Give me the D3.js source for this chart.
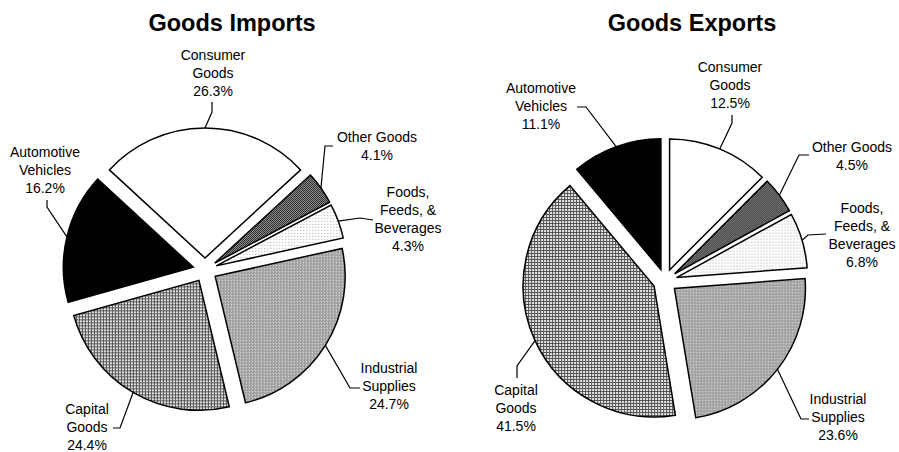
<!DOCTYPE html>
<html><head><meta charset="utf-8">
<script src="https://cdnjs.cloudflare.com/ajax/libs/d3/7.8.5/d3.min.js"></script>
<style>
html,body{margin:0;padding:0;background:#fff;}
svg{display:block;font-family:"Liberation Sans",Arial,sans-serif;}
</style></head>
<body>
<svg id="chart" width="899" height="452"></svg>
<script>
// ---- data ----
const categories = ["Consumer Goods","Other Goods","Foods, Feeds, & Beverages","Industrial Supplies","Capital Goods","Automotive Vehicles"];
const labelLines = [["Consumer","Goods"],["Other Goods"],["Foods,","Feeds, &","Beverages"],["Industrial","Supplies"],["Capital","Goods"],["Automotive","Vehicles"]];
const importsValues = [26.3, 4.1, 4.3, 24.7, 24.4, 16.2];
const exportsValues = [12.5, 4.5, 6.8, 23.6, 41.5, 11.1];
const chartTitles = ["Goods Imports","Goods Exports"];

// ---- layout / style ----
const fills = ["#ffffff","url(#pOther)","url(#pFoods)","url(#pInd)","url(#pCap)","#000000"];
const charts = [
  {title: chartTitles[0], values: importsValues, cx: 205, cy: 270, r: 130, explode: 12, titleX: 232, start: -0.263*Math.PI,
   labels: [
     {x:213, y:60,  lead:[[212,102],[212,112]]},
     {x:377, y:142, lead:[[333,146],[325,146]]},
     {x:408, y:197, lead:[[373,220],[360,218]]},
     {x:389, y:373, lead:[[360,388],[350,388]]},
     {x:87,  y:414, lead:[[113,428],[120,428]]},
     {x:45,  y:157, lead:[[47,200],[47,207]]}
   ]},
  {title: chartTitles[1], values: exportsValues, cx: 665, cy: 281, r: 131, explode: 12, titleX: 692, start: 0,
   labels: [
     {x:730, y:72,  lead:[[732,115],[732,123]]},
     {x:852, y:152, lead:[[809,155],[799,155]]},
     {x:862, y:213, lead:[[826,234],[808,235]]},
     {x:838, y:404, lead:[[809,419],[801,419]]},
     {x:516, y:395, lead:[[517,378],[517,366]]},
     {x:541, y:93,  lead:[[577,107],[586,107]]}
   ]}
];

const svg = d3.select("#chart");
const defs = svg.append("defs");
// Other goods: dark checker
let p = defs.append("pattern").attr("id","pOther").attr("width",2).attr("height",2).attr("patternUnits","userSpaceOnUse");
p.append("rect").attr("width",2).attr("height",2).attr("fill","#bbb");
p.append("rect").attr("width",1).attr("height",1).attr("fill","#000");
p.append("rect").attr("x",1).attr("y",1).attr("width",1).attr("height",1).attr("fill","#000");
// Foods: light dots
p = defs.append("pattern").attr("id","pFoods").attr("width",3).attr("height",3).attr("patternUnits","userSpaceOnUse");
p.append("rect").attr("width",3).attr("height",3).attr("fill","#fff");
p.append("rect").attr("width",1).attr("height",1).attr("fill","#aaa");
// Industrial: medium grey dots
p = defs.append("pattern").attr("id","pInd").attr("width",3).attr("height",3).attr("patternUnits","userSpaceOnUse");
p.append("rect").attr("width",3).attr("height",3).attr("fill","#9a9a9a");
p.append("rect").attr("x",1).attr("y",1).attr("width",1).attr("height",1).attr("fill","#fff");
p.append("rect").attr("x",0).attr("y",0).attr("width",1).attr("height",1).attr("fill","#d0d0d0");
// Capital: grid
p = defs.append("pattern").attr("id","pCap").attr("width",3).attr("height",3).attr("patternUnits","userSpaceOnUse");
p.append("rect").attr("width",3).attr("height",3).attr("fill","#e4e4e4");
p.append("rect").attr("width",3).attr("height",1).attr("fill","#555");
p.append("rect").attr("width",1).attr("height",3).attr("fill","#555");

charts.forEach(c => {
  const g = svg.append("g");
  g.append("text").attr("x", c.titleX).attr("y", 31).attr("text-anchor","middle")
    .attr("font-size", 23.5).attr("font-weight","bold").attr("fill","#000").text(c.title);

  const pie = d3.pie().sort(null).value(d => d).startAngle(c.start).endAngle(c.start + 2*Math.PI);
  const arcs = pie(c.values);
  const arc = d3.arc().innerRadius(0).outerRadius(c.r);
  const pg = g.append("g").attr("transform", `translate(${c.cx},${c.cy})`);
  pg.selectAll("path").data(arcs).join("path")
    .attr("transform", d => {
      const m = (d.startAngle + d.endAngle)/2;
      return `translate(${c.explode*Math.sin(m)},${-c.explode*Math.cos(m)})`;
    })
    .attr("d", arc)
    .attr("fill", (d,i) => fills[i])
    .attr("stroke","#000").attr("stroke-width",1.5).attr("stroke-linejoin","miter");

  // leader lines and labels
  arcs.forEach((d,i) => {
    const m = (d.startAngle + d.endAngle)/2;
    const R = c.r + c.explode;
    const end = [c.cx + R*Math.sin(m), c.cy - R*Math.cos(m)];
    const L = c.labels[i];
    const pts = L.lead.concat([end]);
    g.append("path").attr("d", d3.line()(pts)).attr("fill","none").attr("stroke","#000").attr("stroke-width",1.2);
    const t = g.append("text").attr("text-anchor","middle").attr("font-size",14).attr("fill","#000");
    const lines = labelLines[i].concat([d3.format(".1f")(d.data) + "%"]);
    lines.forEach((s,k) => {
      t.append("tspan").attr("x", L.x).attr("y", L.y + k*18).text(s);
    });
  });
});
</script>
</body></html>
